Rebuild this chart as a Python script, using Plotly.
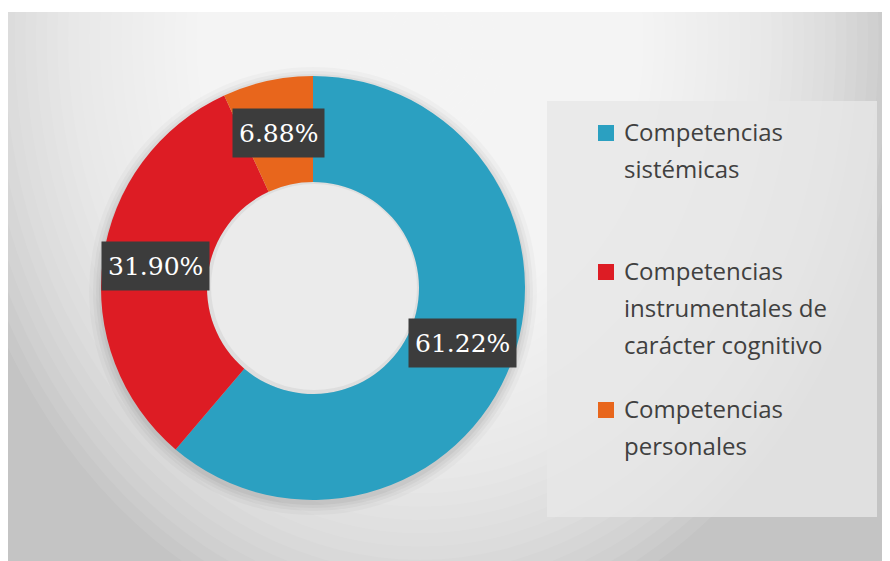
import math
import plotly.graph_objects as go

# ---- data ----
categories = ["Competencias sistémicas",
              "Competencias instrumentales de carácter cognitivo",
              "Competencias personales"]
legend_lines = [["Competencias", "sistémicas"],
                ["Competencias", "instrumentales de", "carácter cognitivo"],
                ["Competencias", "personales"]]
values = [61.22, 31.90, 6.88]
value_labels = ["61.22%", "31.90%", "6.88%"]
colors = ["#2BA0C1", "#DD1C24", "#E8661C"]

# ---- layout constants (reference pixels) ----
OFF = 8                                        # page body margin
W, H = 890, 561
WF, HF = W - OFF, H - OFF                      # figure size
FX0, FX1, FY0, FY1 = 8, 884, 12, 561           # gray frame
CX, CY, R = 313, 288, 212                      # donut centre / radius
HOLE = 0.5
LEG_BOX = (547, 101, 877, 517)
LEG_MARK_X = (598, 614)
LEG_ITEM_Y = [133, 272, 410]
LEG_TEXT_X = 622
LINE_PITCH = 36.8

fig = go.Figure()

# invisible cartesian trace so pixel-based axes exist for the background
fig.add_trace(go.Scatter(x=[FX0], y=[FY0], mode="markers", opacity=0,
                         hoverinfo="skip", showlegend=False))

fig.add_trace(go.Pie(
    labels=categories, values=values, hole=HOLE, sort=False,
    direction="clockwise", rotation=0,
    marker=dict(colors=colors, line=dict(width=0)),
    textinfo="none", hoverinfo="label+percent", showlegend=False,
    domain=dict(x=[(CX - R - OFF) / WF, (CX + R - OFF) / WF],
                y=[1 - (CY + R - OFF) / HF, 1 - (CY - R - OFF) / HF]),
))

shapes = []
# background frame + radial light glow
shapes.append(dict(type="rect", xref="x", yref="y", x0=FX0, x1=FX1, y0=FY0, y1=FY1,
                   fillcolor="#c4c4c4", line=dict(width=0), layer="below"))
GX, GY, RX, RY, N = 420, 40, 480, 600, 45
for k in range(N):
    f = 1 - k / N
    shapes.append(dict(type="circle", xref="x", yref="y",
                       x0=GX - RX * f, x1=GX + RX * f, y0=GY - RY * f, y1=GY + RY * f,
                       fillcolor="white", opacity=0.077, line=dict(width=0), layer="below"))
# soft shadow round the donut
for dr, op in [(12, 0.025), (8, 0.03), (5, 0.035), (2, 0.045)]:
    shapes.append(dict(type="circle", xref="x", yref="y",
                       x0=CX - R - dr, x1=CX + R + dr, y0=CY + 3 - R - dr, y1=CY + 3 + R + dr,
                       fillcolor="black", opacity=op, line=dict(width=0), layer="below"))
# hole interior (light, slight inner shade)
RH = R * HOLE
shapes.append(dict(type="circle", xref="x", yref="y",
                   x0=CX - RH, x1=CX + RH, y0=CY - RH, y1=CY + RH,
                   fillcolor="#dedede", line=dict(width=0), layer="below"))
shapes.append(dict(type="circle", xref="x", yref="y",
                   x0=CX - RH + 4, x1=CX + RH - 2, y0=CY - RH + 2, y1=CY + RH - 4,
                   fillcolor="#ebebeb", line=dict(width=0), layer="below"))
# legend box
shapes.append(dict(type="rect", xref="x", yref="y", x0=LEG_BOX[0], x1=LEG_BOX[2],
                   y0=LEG_BOX[1], y1=LEG_BOX[3], fillcolor="#e7e7e7", opacity=0.8,
                   line=dict(width=0), layer="below"))

annotations = []
# legend markers + text
for i, (lines, col) in enumerate(zip(legend_lines, colors)):
    yc = LEG_ITEM_Y[i]
    shapes.append(dict(type="rect", xref="x", yref="y", x0=LEG_MARK_X[0], x1=LEG_MARK_X[1],
                       y0=yc - 8, y1=yc + 8, fillcolor=col, line=dict(width=0), layer="above"))
    for j, ln in enumerate(lines):
        annotations.append(dict(xref="x", yref="y", x=LEG_TEXT_X, y=yc - 1.5 + j * LINE_PITCH,
                                text=ln, showarrow=False, xanchor="left", yanchor="middle",
                                font=dict(family="Open Sans", size=24, color="#404040")))

# value labels at slice mid-angle, mid-radius (computed from values)
total = sum(values)
cum = 0.0
rmid = R * (1 + HOLE) / 2
for v, lab in zip(values, value_labels):
    ang = 2 * math.pi * (cum + v / 2) / total
    cum += v
    x = CX + rmid * math.sin(ang)
    y = CY - rmid * math.cos(ang)
    annotations.append(dict(xref="x", yref="y", x=x, y=y, text=lab, showarrow=False,
                            xanchor="center", yanchor="middle", height=36,
                            bgcolor="#3c3c3c", borderpad=6,
                            font=dict(family="DejaVu Serif", size=25, color="white")))

fig.update_layout(
    width=WF, height=HF, margin=dict(l=0, r=0, t=0, b=0),
    paper_bgcolor="white", plot_bgcolor="rgba(0,0,0,0)",
    xaxis=dict(range=[FX0, FX1], domain=[(FX0 - OFF) / WF, (FX1 - OFF) / WF],
               visible=False, fixedrange=True),
    yaxis=dict(range=[FY1, FY0], domain=[0, 1 - (FY0 - OFF) / HF],
               visible=False, fixedrange=True),
    shapes=shapes, annotations=annotations, showlegend=False,
)

fig.write_html("out.html")
